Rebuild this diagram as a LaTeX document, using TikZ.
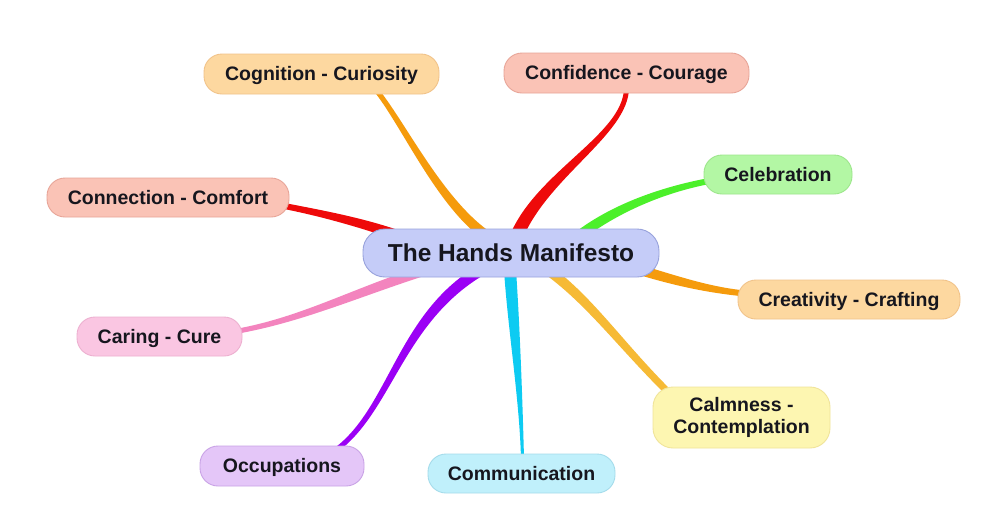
\documentclass[tikz,border=0pt]{standalone}
\usepackage{fontspec}
\setmainfont{Liberation Sans}
\usetikzlibrary{calc,backgrounds}
\definecolor{txt}{HTML}{16161E}
\definecolor{hubF}{HTML}{C5CCF8}\definecolor{hubD}{HTML}{98A2DC}
\definecolor{orgF}{HTML}{FDD8A0}\definecolor{orgD}{HTML}{F1C38A}
\definecolor{salF}{HTML}{FAC3B6}\definecolor{salD}{HTML}{E8A598}
\definecolor{grnF}{HTML}{B3F7A4}\definecolor{grnD}{HTML}{9DE68C}
\definecolor{pnkF}{HTML}{FAC6E2}\definecolor{pnkD}{HTML}{EDB0D0}
\definecolor{ylwF}{HTML}{FDF6B1}\definecolor{ylwD}{HTML}{F0E49A}
\definecolor{purF}{HTML}{E4C6F8}\definecolor{purD}{HTML}{C9A3E6}
\definecolor{cyaF}{HTML}{C0F0FB}\definecolor{cyaD}{HTML}{A5DCEB}
\definecolor{bOrange}{HTML}{F59B0C}
\definecolor{bRed}{HTML}{EE0A0A}
\definecolor{bGreen}{HTML}{4CF02A}
\definecolor{bPink}{HTML}{F384BE}
\definecolor{bPurple}{HTML}{9B00F5}
\definecolor{bCyan}{HTML}{0DCBF2}
\definecolor{bGold}{HTML}{F6BA35}
% tapered branch: color, A (hub end), C1, C2, B (leaf end), half-width at A, half-width at B
\newcommand\branch[7]{%
  \fill[#1] ($(#2)!#6!90:(#3)$) .. controls ($(#3)!#6!-90:(#2)$) and ($(#4)!#7!90:(#5)$) .. ($(#5)!#7!-90:(#4)$)
    -- ($(#5)!#7!90:(#4)$) .. controls ($(#4)!#7!-90:(#5)$) and ($(#3)!#6!90:(#2)$) .. ($(#2)!#6!-90:(#3)$) -- cycle;}
\begin{document}
\begin{tikzpicture}[x=1pt,y=-1pt,
  box/.style 2 args={fill=#1, draw=#2, line width=0.9pt, rounded corners=18pt, inner sep=0pt,
    text=txt, font=\fontsize{19.5}{22.5}\selectfont\bfseries, align=center, minimum height=40pt,
    text height=17.4pt, text depth=4.1pt},
  hubbox/.style={fill=hubF, draw=hubD, line width=0.9pt, rounded corners=22pt, inner sep=0pt,
    text=txt, font=\fontsize{24.5}{28}\selectfont\bfseries, minimum width=296pt, minimum height=48pt,
    text height=21.8pt, text depth=5.1pt}]
\useasboundingbox (0,0) rectangle (1000,531);

\node[hubbox] (hub) at (511,253) {The Hands Manifesto};
\node[box={orgF}{orgD}, minimum width=235pt] (cog) at (321.5,74) {Cognition - Curiosity};
\node[box={salF}{salD}, minimum width=245pt] (conf) at (626.5,73) {Confidence - Courage};
\node[box={grnF}{grnD}, minimum width=148pt, minimum height=39pt] (cel) at (778,174.5) {Celebration};
\node[box={salF}{salD}, minimum width=242pt, minimum height=39pt] (conn) at (168,197.5) {Connection - Comfort};
\node[box={orgF}{orgD}, minimum width=222pt, minimum height=39pt] (cre) at (849,299.5) {Creativity - Crafting};
\node[box={pnkF}{pnkD}, minimum width=165pt, minimum height=39pt] (car) at (159.5,336.5) {Caring - Cure};
\node[box={ylwF}{ylwD}, minimum width=177pt, minimum height=61pt, rounded corners=20pt,
      text height=, text depth=] (calm) at (741.5,417.5) {Calmness -\\Contemplation};
\node[box={purF}{purD}, minimum width=164pt] (occ) at (282,466) {Occupations};
\node[box={cyaF}{cyaD}, minimum width=187pt, minimum height=39pt] (com) at (521.5,473.5) {Communication};

\coordinate (hA1) at ($(hub)+(-21,-15)$); \coordinate (lB1) at ($(cog)+(53,14)$);
\coordinate (hA2) at ($(hub)+(4,-13)$);   \coordinate (lB2) at ($(conf)+(0,15)$);
\coordinate (hA3) at ($(hub)+(69,-18)$);  \coordinate (lB3) at ($(cel)+(-66,6)$);
\coordinate (hA4) at ($(hub)+(-111,-17)$);\coordinate (lB4) at ($(conn)+(114,8)$);
\coordinate (hA5) at ($(hub)+(129,17)$);  \coordinate (lB5) at ($(cre)+(-104,-6)$);
\coordinate (hA6) at ($(hub)+(-91,19)$);  \coordinate (lB6) at ($(car)+(76,-5)$);
\coordinate (hA7) at ($(hub)+(-33,19)$);  \coordinate (lB7) at ($(occ)+(54,-16)$);
\coordinate (hA8) at ($(hub)+(-1,17)$);   \coordinate (lB8) at ($(com)+(1,-15)$);
\coordinate (hA9) at ($(hub)+(34,15)$);   \coordinate (lB9) at ($(calm)+(-69,-21)$);

\begin{scope}[on background layer]
  \fill[white] (0,0) rectangle (1000,531);
  \branch{bOrange}{hA1}{440,205}{403,122}{lB1}{5pt}{2.5pt}
  \branch{bRed}{hA2}{540,175}{626,135}{lB2}{6.5pt}{2.5pt}
  \branch{bGreen}{hA3}{620,205}{670,188}{lB3}{5pt}{3pt}
  \branch{bRed}{hA4}{360,222}{320,213}{lB4}{5pt}{3pt}
  \branch{bOrange}{hA5}{680,282}{710,290}{lB5}{5pt}{3pt}
  \branch{bPink}{hA6}{350,295}{300,320}{lB6}{5pt}{2.5pt}
  \branch{bPurple}{hA7}{400,320}{390,410}{lB7}{5.5pt}{2.5pt}
  \branch{bCyan}{hA8}{514,330}{521,400}{lB8}{6pt}{1.5pt}
  \branch{bGold}{hA9}{590,300}{620,345}{lB9}{5pt}{3.5pt}
\end{scope}
\end{tikzpicture}
\end{document}
